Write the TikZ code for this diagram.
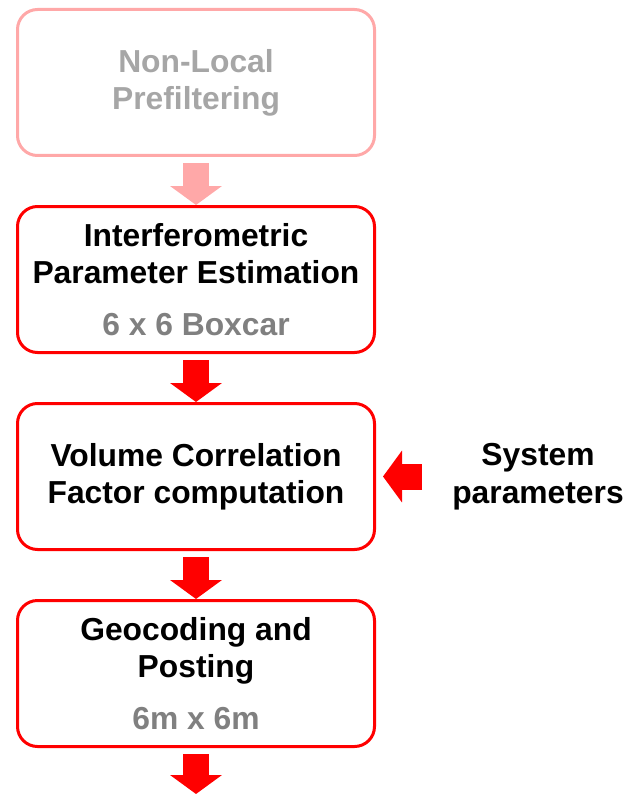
\documentclass[tikz,border=0pt]{standalone}
\usepackage{fontspec}
\setmainfont{Liberation Sans}
\usepackage{tikz}
\usetikzlibrary{positioning, arrows.meta}
\definecolor{flowred}{HTML}{FF0000}
\definecolor{flowpink}{HTML}{FFA8A8}
\definecolor{lightgrey}{HTML}{A6A6A6}
\definecolor{midgrey}{HTML}{808080}

\begin{document}
\begin{tikzpicture}[
  node distance=36pt,
  stage/.style={draw=flowred, line width=2.25pt, rounded corners=15pt,
    minimum width=267.75pt, minimum height=109.5pt, align=center,
    font=\fontsize{23.85}{27.75}\selectfont\bfseries},
  fat/.style={flowred, line width=19.5pt, shorten <=4.5pt,
    -{Triangle[length=14.25pt, width=38.25pt]}}
]
\useasboundingbox (0,0) rectangle (471pt,-596.25pt);
\node[stage, draw=flowpink, text=lightgrey] (prefilt) at (147pt,-61.875pt)
  {Non-Local\\Prefiltering};
\node[stage, below=of prefilt] (estim)
  {Interferometric\\Parameter Estimation\\[11pt]\textcolor{midgrey}{6 x 6 Boxcar}};
\node[stage, below=of estim] (volcorr) {Volume Correlation\\Factor computation};
\node[stage, below=of volcorr] (geocod)
  {Geocoding and\\Posting\\[11pt]\textcolor{midgrey}{6m x 6m}};
\node[right=57pt of volcorr, inner sep=0pt, align=center,
  font=\fontsize{23.85}{28.5}\selectfont\bfseries] (sysparam) {System\\parameters};
\coordinate[below=34.5pt of geocod] (tail);
\draw[fat, flowpink] (prefilt) -- (estim);
\draw[fat] (estim) -- (volcorr);
\draw[fat] (volcorr) -- (geocod);
\draw[fat] (geocod) -- (tail);
\draw[fat, shorten <=22.5pt, shorten >=5.25pt] (sysparam.west) -- (volcorr.east);
\end{tikzpicture}
\end{document}
